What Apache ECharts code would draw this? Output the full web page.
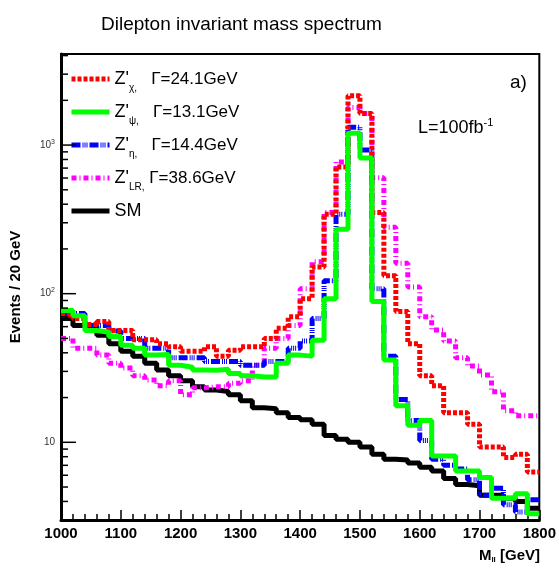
<!DOCTYPE html>
<html><head><meta charset="utf-8">
<script src="https://cdn.jsdelivr.net/npm/echarts@6/dist/echarts.min.js"></script>
<style>html,body{margin:0;padding:0;background:#fff}#c{width:559px;height:573px}</style>
</head><body><div id="c"></div>
<script>
// bin lower edges (GeV), 20 GeV bins
const binLow = [1000,1020,1040,1060,1080,1100,1120,1140,1160,1180,1200,1220,1240,1260,1280,1300,1320,1340,1360,1380,1400,1420,1440,1460,1480,1500,1520,1540,1560,1580,1600,1620,1640,1660,1680,1700,1720,1740,1760,1780];
const binEnd = 1800;
const zChi = [72,68,62,65,56.6,56.6,49,49,46,44,41,41,44,38,41.7,44,44,50,58.5,70,92.6,151,342,713,2150,1630,352,132,76,46,28,24,15.8,15.8,13.2,9.3,9.3,7.9,8.3,6.3];
const zPsi = [77,71,56.6,55,51.6,45,43,38.6,39,33,32,30.7,30.5,31,29,28,27.5,27.5,34,38.6,38,48.6,92.6,271,1200,820,88.5,35.8,17.6,13,14,8.1,8.1,6.4,6.4,5.8,4.2,4.2,4.5,3.3];
const zEta = [73.6,73.6,61,61,56,50,50,43,43,37,37,37,35,35,35,33,33,35,35,43,48,68,122,342,1320,926,108,38,19.4,14,10.3,7.7,7,6.6,5.6,4.4,4.9,3.8,3.4,4.1];
const zLR = [50,43,43,38.6,34,31.6,28,26.3,24,25.9,20.9,23.3,23.6,23.6,25,25.9,33,43,50,61,108,164,352,770,1790,1630,603,280,160,111,70,57,48,37,32.6,28.4,21.9,16.3,15.1,15.1];
const sm = [68,61,60,52.5,46,41,38,34,30.7,28,25.9,23.6,22.5,22,20.9,19,17.1,16.8,15.8,14.7,14.2,13.2,11.1,10.5,10,9.3,8.3,7.7,7.6,7.25,6.8,6.4,5.7,5.2,5.1,4.4,4.4,4.2,4.0,3.6];
const xTicks = [1000,1100,1200,1300,1400,1500,1600,1700,1800];
const yMajor = [10,100,1000];
const yMinor = [3,4,5,6,7,8,9,20,30,40,50,60,70,80,90,200,300,400,500,600,700,800,900,2000,3000,4000];

function steps(vals){
  const d = binLow.map((x,i)=>[x, vals[i]]);
  d.push([binEnd, vals[vals.length-1]]);
  return d;
}
const FN = 'Liberation Sans';
const chart = echarts.init(document.getElementById('c'), null, {renderer:'canvas'});
const mk = (name, vals, color, width, dash, z) => ({
  name, type:'line', step:'end', data: steps(vals), symbol:'none', z,
  lineStyle:{color, width, type: dash}, itemStyle:{color}, emphasis:{disabled:true}
});
// y-axis tick marks drawn through the axis scale
const tickSeries = (vals, len) => ({
  type:'custom', silent:true, z:10, clip:false, legendHoverLink:false,
  data: vals.map(v=>[binLow[0], v]),
  renderItem:(params, api)=>{
    const p = api.coord([api.value(0), api.value(1)]);
    return {type:'line', shape:{x1:p[0], y1:p[1], x2:p[0]+len, y2:p[1]},
      style:{stroke:'#000', lineWidth:1.5}};
  }
});
const legendRich = {
  z:{fontFamily:FN, fontSize:18, color:'#000'},
  s:{fontFamily:FN, fontSize:10, color:'#000', padding:[18,0,0,0]},
  g:{fontFamily:FN, fontSize:17, color:'#000'}
};
const legendText = {
  'chi': "{z|Z'}{s|χ,}{g|   Γ=24.1GeV}",
  'psi': "{z|Z'}{s|ψ,}{g|   Γ=13.1GeV}",
  'eta': "{z|Z'}{s|η,}{g|   Γ=14.4GeV}",
  'LR':  "{z|Z'}{s|LR,}{g| Γ=38.6GeV}",
  'SM':  "{z|SM}"
};
chart.setOption({
  animation:false,
  backgroundColor:'#fff',
  title:{text:'Dilepton invariant mass spectrum', left:96, top:10,
    textStyle:{fontFamily:'Liberation Sans Narrow, '+FN, fontSize:19, fontWeight:'normal', color:'#000'}},
  grid:{left:57, right:18, top:54, bottom:53, show:true, borderColor:'#000', borderWidth:2},
  legend:{orient:'vertical', left:64, top:65, itemWidth:38, itemHeight:12, itemGap:10,
    data:['chi','psi','eta','LR','SM'], selectedMode:false,
    itemStyle:{opacity:0}, lineStyle:{width:5},
    formatter:n=>legendText[n], textStyle:{rich:legendRich}},
  xAxis:[{type:'value', min:1000, max:1800, interval:100,
    axisLine:{lineStyle:{color:'#000', width:3}},
    axisTick:{inside:true, length:10, lineStyle:{color:'#000', width:1.5}},
    minorTick:{show:true, splitNumber:5, length:6, lineStyle:{color:'#000', width:1.5}},
    splitLine:{show:false},
    axisLabel:{margin:6, fontFamily:FN, fontWeight:'bold', fontSize:15, color:'#000',
      customValues: xTicks, formatter:v=>String(v)}
  }],
  yAxis:[{type:'log', logBase:10, min:3, max:4100, position:'left',
    axisLine:{show:true, lineStyle:{color:'#000', width:3}},
    axisTick:{show:false},
    splitLine:{show:false},
    axisLabel:{customValues:yMajor, margin:6, fontFamily:FN, fontSize:10, color:'#333',
      formatter:v=> v>=1000? '10{p|3}' : v>=100 ? '10{p|2}' : '10',
      rich:{p:{fontSize:7, padding:[0,0,7,0], color:'#333'}}},
    name:'Events / 20 GeV', nameLocation:'middle', nameGap:38,
    nameTextStyle:{fontFamily:FN, fontWeight:'bold', fontSize:15, color:'#000'}
  }],
  series:[
    mk('SM', sm, '#000000', 5, 'solid', 2),
    mk('LR', zLR, '#ff00ff', 5, [5,3,1,3], 3),
    mk('eta', zEta, '#0000ff', 5, [9,2,1,1,1,1,1,2], 4),
    mk('chi', zChi, '#ff0000', 5, [4,2], 5),
    mk('psi', zPsi, '#00ff00', 5, 'solid', 6),
    tickSeries(yMajor, 15),
    tickSeries(yMinor, 7)
  ],
  graphic:[
    {type:'text', left:418, top:117, style:{rich:{
      a:{fontFamily:'Liberation Sans Narrow, '+FN, fontSize:18, fill:'#000'},
      b:{fontFamily:FN, fontSize:11, fill:'#000', padding:[0,0,12,0]}},
      text:'{a|L=100fb}{b|-1}'}},
    {type:'text', left:510, top:73, style:{text:'a)', fontFamily:FN, fontSize:19, fill:'#000'}},
    {type:'text', right:19, top:548, style:{rich:{
      a:{fontFamily:FN, fontSize:15, fontWeight:'bold', fill:'#000'},
      b:{fontFamily:FN, fontSize:8, fontWeight:'bold', fill:'#000', padding:[8,0,0,0]}},
      text:'{a|M}{b|ll}{a| [GeV]}'}}
  ]
});
</script></body></html>
